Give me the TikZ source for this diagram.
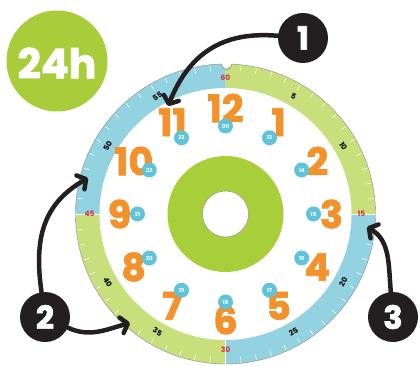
\documentclass[tikz,border=0pt]{standalone}
\usepackage{fontspec}
\setmainfont{Poppins}
\newfontfamily\heavyfont{Poppins Bold}[FakeBold=2]
\usetikzlibrary{arrows.meta}
\definecolor{ringblue}{HTML}{93D3E1}
\definecolor{ringgreen}{HTML}{C8DF7C}
\definecolor{donutgreen}{HTML}{A8CE3A}
\definecolor{badgegreen}{HTML}{A9CD3A}
\definecolor{hourorange}{HTML}{F3922A}
\definecolor{dotblue}{HTML}{5FC4D9}
\definecolor{minred}{HTML}{D13A3F}
\definecolor{calloutblack}{HTML}{231F20}
\definecolor{rimgrey}{HTML}{8A8A8A}
\tikzset{
  hournum/.style={text=hourorange, font=\fontsize{38}{38}\selectfont\heavyfont, inner sep=0pt},
  dot/.style={circle, fill=dotblue, minimum size=15pt, inner sep=0pt, text=white, font=\fontsize{5.5}{5.5}\selectfont\bfseries},
  minnum/.style={font=\fontsize{7.5}{7.5}\selectfont\bfseries, inner sep=0pt, text=black},
  minred/.style={minnum, text=minred},
  callout/.style={circle, fill=calloutblack, minimum size=50pt, inner sep=0pt, text=white, font=\fontsize{32}{32}\selectfont\heavyfont},
  arrowline/.style={line width=4.5pt, draw=calloutblack, line cap=round, -{Straight Barb[round,length=6.5pt,width=16pt]}},
}
\begin{document}
\begin{tikzpicture}[x=1pt,y=1pt]
\fill[white] (0,0) rectangle (420,-366);
\useasboundingbox (0,0) rectangle (420,-366);
% badge
\node[circle, fill=badgegreen, minimum size=101pt, inner sep=0pt] (badge) at (57,-61) {};
\node[text=white, font=\fontsize{41}{41}\selectfont\heavyfont, inner sep=0pt] (badgelabel) at (57,-63) {24h};
% clock
\begin{scope}[shift={(225.5,-214)}]
  \fill[ringgreen] (0,0) -- (0:150) arc[start angle=0, end angle=90, radius=150] -- cycle;
  \fill[ringblue] (0,0) -- (90:150) arc[start angle=90, end angle=180, radius=150] -- cycle;
  \fill[ringgreen] (0,0) -- (180:150) arc[start angle=180, end angle=270, radius=150] -- cycle;
  \fill[ringblue] (0,0) -- (270:150) arc[start angle=270, end angle=360, radius=150] -- cycle;
  \foreach \i in {0,...,59} \draw[white, line width=0.5pt] (\i*6:143.5) -- (\i*6:149);
  \draw[white, line width=0.8pt] (0:125) -- (0:150) (180:125) -- (180:150) (270:125) -- (270:150);
  \draw[rimgrey, line width=0.4pt] (0,0) circle[radius=150];
  \fill[white] (0,0) circle[radius=126];
  % notch
  \fill[white] (1,151) circle[radius=5];
  \draw[rimgrey, line width=0.4pt] (-4,149.2) arc[start angle=180, end angle=360, radius=5];
  % donut
  \fill[donutgreen] (0,0) circle[radius=58];
  \fill[white] (0,0) circle[radius=23];
  \draw[rimgrey, line width=0.4pt] (0,0) circle[radius=23];
  % minute numbers
  \node[minred] (m60) at (90:136) {60};
  \node[minred] (m15) at (0:136) {15};
  \node[minred] (m30) at (270:136) {30};
  \node[minred] (m45) at (180:136) {45};
  \foreach \m/\a/\r in {5/60/-30, 10/30/-60, 20/-30/60, 25/-60/30, 35/-120/-30, 40/-150/-60, 50/150/60, 55/120/30}
    \node[minnum, rotate=\r] (m\m) at (\a:136) {\m};
  % hour numbers
  \foreach \h in {1,...,12}
    \node[hournum] (h\h) at ({90-30*\h}:106) {\h};
  % 24h dots
  \foreach \h/\t in {12/00, 1/13, 2/14, 3/15, 4/16, 5/17, 6/18, 7/19, 8/20, 9/21, 10/22, 11/23}
    \node[dot] (d\h) at ({90-30*\h}:88) {\t};
\end{scope}
% callouts
\node[callout] (c1) at (303,-38) {1};
\node[callout] (c2) at (45,-317) {2};
\node[callout] (c3) at (393,-317) {3};
\coordinate (t1) at (168,-106);
\coordinate (t2a) at (88,-178);
\coordinate (t2b) at (130,-323);
\coordinate (t3) at (367,-227);
\draw[arrowline] (c1) to[out=175, in=68, looseness=1.1] (t1);
\draw[arrowline] (c2) to[out=98, in=210, looseness=1.1] (t2a);
\draw[arrowline] (c2) to[out=-25, in=195] (t2b);
\draw[arrowline] (c3) to[out=95, in=-30] (t3);
\end{tikzpicture}
\end{document}
